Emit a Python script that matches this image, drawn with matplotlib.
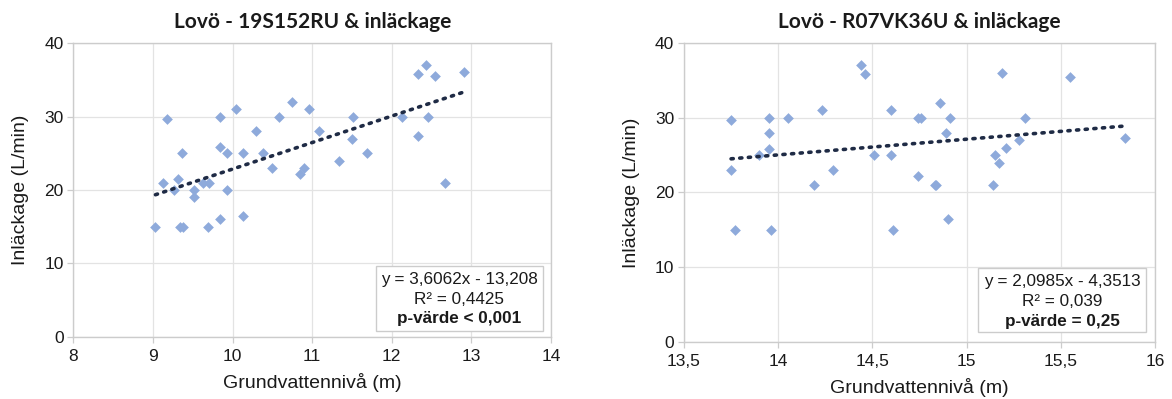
"""Two scatter panels: inflow vs groundwater level, with linear trend lines."""

import matplotlib

matplotlib.use("Agg")
import matplotlib.pyplot as plt
import numpy as np
from matplotlib.patches import Rectangle
from matplotlib.ticker import FuncFormatter, MultipleLocator

# Left panel: 19S152RU
left_x = [9.18, 9.84, 10.04, 10.29, 10.58, 10.74, 10.96, 11.08, 9.36, 9.84,
          9.93, 10.13, 10.38, 10.50, 10.85, 10.90, 9.13, 9.31, 9.26, 9.52,
          9.51, 9.63, 9.70, 9.93, 9.03, 9.34, 9.37, 9.69, 9.84, 10.13,
          11.51, 11.50, 11.34, 11.69, 12.13, 12.33, 12.43, 12.54, 12.91, 12.46,
          12.33, 12.67]
left_y = [29.7, 30, 31, 28, 30, 32, 31, 28, 25, 25.8,
          25, 25, 25, 23, 22.2, 23, 21, 21.5, 20, 20,
          19, 21, 21, 20, 15, 15, 15, 15, 16, 16.5,
          30, 27, 24, 25, 30, 35.8, 37, 35.5, 36, 30,
          27.3, 21]
left_fit = (3.6062, -13.208)
left_lines = ["y = 3,6062x - 13,208", "R² = 0,4425", "p-värde < 0,001"]

# Right panel: R07VK36U
right_x = [13.75, 13.75, 13.77, 13.90, 13.95, 13.95, 13.95, 13.96, 14.05, 14.19,
           14.23, 14.29, 14.44, 14.46, 14.51, 14.60, 14.60, 14.61, 14.74, 14.76,
           14.74, 14.91, 14.86, 14.89, 14.83, 14.84, 14.90, 15.14, 15.15, 15.17,
           15.21, 15.28, 15.31, 15.19, 15.55, 15.84]
right_y = [29.7, 23, 15, 25, 30, 28, 25.8, 15, 30, 21,
           31, 23, 37, 35.8, 25, 31, 25, 15, 30, 30,
           22.2, 30, 32, 28, 21, 21, 16.5, 21, 25, 24,
           26, 27, 30, 36, 35.5, 27.3]
right_fit = (2.0985, -4.3513)
right_lines = ["y = 2,0985x - 4,3513", "R² = 0,039", "p-värde = 0,25"]

MARKER = "#8eaadb"
TREND = "#1f2b45"
GRID = "#e3e3e3"
TEXT = "#1a1a1a"

plt.rcParams["font.family"] = ["Liberation Sans", "DejaVu Sans"]


def comma_fmt(v, _pos):
    return f"{v:g}".replace(".", ",")


def draw_panel(ax, xs, ys, fit, lines, title, xlim, xstep, box):
    ax.scatter(xs, ys, marker="D", s=30, color=MARKER, linewidths=0, zorder=3)

    xx = np.array([min(xs), max(xs)])
    ax.plot(xx, fit[0] * xx + fit[1], color=TREND, lw=2.6,
            linestyle=(0, (0.6, 1.8)), dash_capstyle="round", zorder=4)

    ax.set_xlim(*xlim)
    ax.set_ylim(0, 40)
    ax.xaxis.set_major_locator(MultipleLocator(xstep))
    ax.yaxis.set_major_locator(MultipleLocator(10))
    ax.xaxis.set_major_formatter(FuncFormatter(comma_fmt))
    ax.grid(True, color=GRID, lw=0.9)
    ax.set_axisbelow(True)
    for sp in ax.spines.values():
        sp.set_color("#cccccc")
        sp.set_linewidth(1.0)
    ax.tick_params(length=4, width=0.9, color="#cccccc", labelsize=12.5,
                   labelcolor=TEXT, pad=3)
    ax.tick_params(axis="x", pad=5)

    ax.set_title(title, fontsize=15, fontweight="bold", family=["Lato", "DejaVu Sans"],
                 color=TEXT, pad=11)
    ax.set_xlabel("Grundvattennivå (m)", fontsize=14, color=TEXT, labelpad=6)
    ax.set_ylabel("Inläckage (L/min)", fontsize=14, color=TEXT, labelpad=11)

    # equation box
    bx, by, bw, bh, ty = box
    ax.add_patch(Rectangle((bx, by), bw, bh, transform=ax.transAxes,
                           facecolor="white", edgecolor="#cccccc", lw=1.0, zorder=5))
    cx = bx + bw / 2
    for i, (txt, yy) in enumerate(zip(lines, ty)):
        ax.text(cx, yy, txt, transform=ax.transAxes, ha="center", va="center",
                fontsize=12.3, color=TEXT, fontweight="bold" if i == 2 else "normal",
                zorder=6)


fig = plt.figure(figsize=(11.72, 3.99), dpi=100)
ax1 = fig.add_axes([0.0627, 0.1554, 0.4074, 0.7368])
ax2 = fig.add_axes([0.5836, 0.1429, 0.4019, 0.7494])

draw_panel(ax1, left_x, left_y, left_fit, left_lines,
           "Lovö - 19S152RU & inläckage", (8, 14), 1,
           (0.6335, 0.0214, 0.349, 0.22, (0.194, 0.128, 0.062)))
draw_panel(ax2, right_x, right_y, right_fit, right_lines,
           "Lovö - R07VK36U & inläckage", (13.5, 16), 0.5,
           (0.624, 0.0334, 0.357, 0.214, (0.2017, 0.1348, 0.068)))

fig.savefig("out.png", dpi=100, facecolor="white")
